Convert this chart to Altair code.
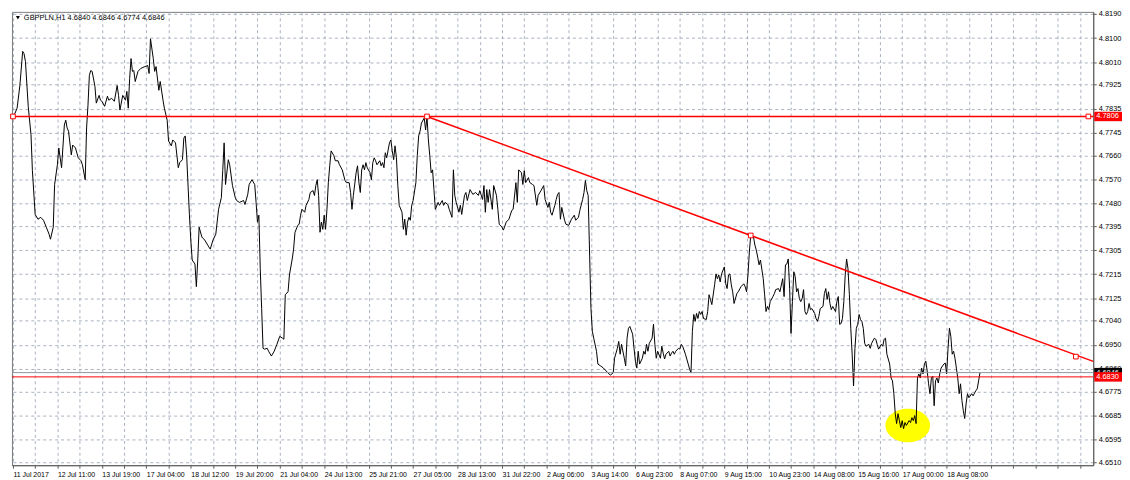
import altair as alt
import pandas as pd

# ---------------- data ----------------
HOURS = [0, 3, 5, 7, 8, 9, 11, 13, 14, 16, 18, 20, 22, 24, 26, 27, 29, 30, 32, 33, 35, 37, 38, 39, 40, 42, 43, 45, 47, 49,
         50, 52, 53, 54, 55, 56, 57, 59, 60, 62, 63, 64, 66, 68, 69, 71, 73, 75, 76, 77, 79, 81, 82, 83, 84, 85, 86, 87, 88, 90,
         92, 95, 97, 98, 99, 101, 102, 103, 105, 106, 108, 109, 111, 112, 114, 115, 117, 119, 120, 122, 123, 124, 125, 127, 128, 129, 131, 132, 133, 134,
         136, 138, 141, 142, 144, 146, 148, 150, 151, 152, 153, 155, 156, 158, 160, 161, 163, 166, 167, 169, 170, 172, 174, 175, 176, 177, 178, 179, 180, 181,
         183, 184, 186, 188, 190, 192, 194, 195, 196, 198, 199, 201, 202, 203, 205, 206, 207, 208, 210, 211, 213, 214, 216, 217, 218, 219, 220, 221, 222, 223,
         224, 225, 226, 227, 228, 229, 231, 232, 234, 235, 237, 239, 240, 242, 243, 244, 245, 247, 248, 249, 250, 251, 252, 253, 254, 255, 257, 258, 259, 260,
         261, 262, 264, 265, 266, 267, 268, 269, 271, 272, 273, 274, 275, 276, 277, 278, 280, 281, 282, 283, 284, 285, 286, 287, 288, 290, 291, 292, 293, 294,
         296, 297, 298, 299, 300, 301, 302, 303, 304, 306, 307, 309, 310, 311, 313, 314, 316, 317, 318, 319, 321, 322, 323, 325, 326, 327, 329, 331, 333, 335,
         336, 338, 339, 340, 341, 342, 343, 345, 346, 348, 349, 350, 352, 353, 355, 357, 359, 360, 362, 363, 364, 366, 367, 368, 369, 371, 372, 374, 375, 377,
         378, 380, 382, 383, 385, 386, 387, 388, 390, 391, 392, 393, 394, 395, 397, 398, 400, 402, 404, 405, 407, 408, 410, 411, 412, 413, 414, 415, 416, 417,
         418, 420, 421, 423, 425, 427, 429, 430, 432, 433, 435, 436, 437, 438, 440, 441, 442, 443, 444, 446, 447, 448, 449, 450, 451, 453, 454, 455, 456, 457,
         458, 460, 461, 462, 463, 464, 466, 467, 468, 469, 470, 472, 473, 474, 475, 476, 477, 479, 480, 481, 482, 484, 486, 487, 488, 489, 490, 491, 492, 493,
         494, 495, 496, 497, 499, 500, 501, 502, 503, 505, 506, 507, 508, 509, 510, 512, 513, 514, 515, 516, 517, 518, 519, 521, 522, 524, 526, 527, 528, 529,
         530, 531, 533, 534, 535, 536, 537, 538, 540, 541, 542, 543, 544, 545, 547, 548, 549, 551, 552, 554, 555, 556, 557, 558, 559, 560, 561, 562, 563, 564,
         565, 566, 567, 568, 569, 570, 571, 572, 573, 574, 575, 577, 578, 579, 580, 581, 583, 584, 585, 586, 587, 588, 589, 590, 592, 593, 594, 595, 596, 597,
         598, 599, 600, 601, 602, 603, 604, 605, 606, 607, 608, 609, 610, 611, 612, 613, 614, 616, 617, 618, 620, 621, 622, 623, 625, 626, 627, 628, 629, 631,
         632, 633, 634, 635, 636, 637, 638, 639, 640, 641, 642, 643, 645, 646, 647, 648, 649, 650, 651, 652, 653, 654, 655, 656, 657, 658, 659, 660, 661, 662,
         663, 664, 665, 666, 667, 668, 670, 671, 672, 673, 674, 675, 676, 677, 678, 679, 680, 681, 682, 683, 684, 685, 686, 687, 688, 690, 691, 693, 694, 695,
         696]

PRICES = [4.7800, 4.7837, 4.7922, 4.8050, 4.8041, 4.8012, 4.7844, 4.7737, 4.7603, 4.7439, 4.7421, 4.7428, 4.7417, 4.7391, 4.7365, 4.7346, 4.7391, 4.7551, 4.7625, 4.7688,
          4.7614, 4.7774, 4.7792, 4.7763, 4.7751, 4.7662, 4.7699, 4.7688, 4.7651, 4.7640, 4.7625, 4.7569, 4.7763, 4.7848, 4.7960, 4.7978, 4.7975, 4.7919, 4.7856, 4.7885,
          4.7867, 4.7863, 4.7844, 4.7882, 4.7867, 4.7874, 4.7863, 4.7922, 4.7885, 4.7830, 4.7885, 4.7867, 4.7900, 4.7837, 4.7948, 4.8023, 4.7975, 4.7978, 4.7937, 4.7975,
          4.7986, 4.7993, 4.7997, 4.7967, 4.8097, 4.8023, 4.7975, 4.7993, 4.7904, 4.7937, 4.7867, 4.7837, 4.7792, 4.7714, 4.7696, 4.7718, 4.7707, 4.7614, 4.7633, 4.7644,
          4.7725, 4.7733, 4.7662, 4.7439, 4.7343, 4.7268, 4.7253, 4.7168, 4.7268, 4.7391, 4.7354, 4.7343, 4.7317, 4.7309, 4.7343, 4.7365, 4.7458, 4.7502, 4.7603, 4.7707,
          4.7551, 4.7644, 4.7625, 4.7547, 4.7502, 4.7491, 4.7484, 4.7491, 4.7476, 4.7514, 4.7551, 4.7569, 4.7551, 4.7484, 4.7410, 4.7436, 4.7235, 4.7086, 4.6937, 4.6934,
          4.6937, 4.6926, 4.6908, 4.6926, 4.6952, 4.6982, 4.6975, 4.6971, 4.7138, 4.7149, 4.7212, 4.7272, 4.7309, 4.7372, 4.7398, 4.7402, 4.7436, 4.7458, 4.7447, 4.7473,
          4.7495, 4.7521, 4.7528, 4.7510, 4.7547, 4.7569, 4.7510, 4.7372, 4.7410, 4.7383, 4.7436, 4.7383, 4.7458, 4.7558, 4.7621, 4.7677, 4.7659, 4.7640, 4.7640, 4.7625,
          4.7606, 4.7566, 4.7558, 4.7558, 4.7521, 4.7458, 4.7510, 4.7595, 4.7621, 4.7558, 4.7521, 4.7606, 4.7625, 4.7606, 4.7633, 4.7614, 4.7595, 4.7569, 4.7633, 4.7651,
          4.7640, 4.7625, 4.7640, 4.7621, 4.7633, 4.7614, 4.7670, 4.7651, 4.7707, 4.7718, 4.7677, 4.7644, 4.7696, 4.7651, 4.7547, 4.7473, 4.7447, 4.7383, 4.7421, 4.7361,
          4.7410, 4.7428, 4.7417, 4.7473, 4.7491, 4.7558, 4.7659, 4.7733, 4.7751, 4.7781, 4.7800, 4.7755, 4.7806, 4.7718, 4.7659, 4.7595, 4.7606, 4.7532, 4.7458, 4.7484,
          4.7473, 4.7491, 4.7473, 4.7484, 4.7476, 4.7458, 4.7428, 4.7606, 4.7510, 4.7484, 4.7447, 4.7473, 4.7439, 4.7510, 4.7521, 4.7491, 4.7532, 4.7514, 4.7521, 4.7510,
          4.7528, 4.7495, 4.7547, 4.7447, 4.7532, 4.7484, 4.7532, 4.7458, 4.7547, 4.7510, 4.7458, 4.7402, 4.7391, 4.7380, 4.7410, 4.7421, 4.7454, 4.7458, 4.7558, 4.7484,
          4.7606, 4.7595, 4.7551, 4.7603, 4.7558, 4.7577, 4.7558, 4.7551, 4.7547, 4.7473, 4.7510, 4.7528, 4.7547, 4.7495, 4.7465, 4.7484, 4.7447, 4.7436, 4.7473, 4.7495,
          4.7514, 4.7521, 4.7421, 4.7465, 4.7417, 4.7402, 4.7398, 4.7421, 4.7436, 4.7417, 4.7428, 4.7454, 4.7495, 4.7521, 4.7566, 4.7528, 4.7510, 4.7298, 4.7086, 4.7001,
          4.6975, 4.6926, 4.6878, 4.6871, 4.6863, 4.6852, 4.6841, 4.6837, 4.6845, 4.6900, 4.6937, 4.6963, 4.6915, 4.6952, 4.6900, 4.6871, 4.6975, 4.7012, 4.7019, 4.6990,
          4.6937, 4.6889, 4.6863, 4.6926, 4.6878, 4.6900, 4.6926, 4.6915, 4.6952, 4.6926, 4.6956, 4.6975, 4.7027, 4.6952, 4.6900, 4.6926, 4.6900, 4.6945, 4.6919, 4.6897,
          4.6915, 4.6926, 4.6908, 4.6919, 4.6926, 4.6915, 4.6926, 4.6937, 4.6934, 4.6952, 4.6945, 4.6915, 4.6878, 4.6859, 4.6845, 4.7001, 4.7064, 4.7038, 4.7068, 4.7049,
          4.7075, 4.7064, 4.7075, 4.7049, 4.7045, 4.7075, 4.7138, 4.7120, 4.7101, 4.7175, 4.7216, 4.7198, 4.7212, 4.7186, 4.7216, 4.7242, 4.7179, 4.7161, 4.7212, 4.7216,
          4.7175, 4.7149, 4.7105, 4.7142, 4.7149, 4.7168, 4.7179, 4.7168, 4.7149, 4.7212, 4.7298, 4.7361, 4.7354, 4.7324, 4.7305, 4.7279, 4.7250, 4.7268, 4.7198, 4.7138,
          4.7075, 4.7094, 4.7082, 4.7112, 4.7131, 4.7142, 4.7157, 4.7161, 4.7149, 4.7198, 4.7131, 4.7250, 4.7253, 4.7272, 4.7161, 4.6993, 4.7112, 4.7224, 4.7205, 4.7149,
          4.7161, 4.7123, 4.7112, 4.7123, 4.7157, 4.7075, 4.7064, 4.7075, 4.7105, 4.7082, 4.7086, 4.7068, 4.7049, 4.7038, 4.7056, 4.7086, 4.7094, 4.7142, 4.7161, 4.7120,
          4.7149, 4.7105, 4.7082, 4.7094, 4.7075, 4.7112, 4.7131, 4.7027, 4.7030, 4.7049, 4.7112, 4.7212, 4.7272, 4.7235, 4.7138, 4.7012, 4.6915, 4.6796, 4.6937, 4.7012,
          4.7027, 4.7064, 4.7045, 4.7038, 4.7012, 4.6956, 4.6945, 4.6952, 4.6937, 4.6956, 4.6975, 4.6971, 4.6952, 4.6934, 4.6952, 4.6945, 4.6971, 4.6975, 4.6915, 4.6878,
          4.6826, 4.6815, 4.6767, 4.6692, 4.6655, 4.6692, 4.6666, 4.6640, 4.6666, 4.6636, 4.6659, 4.6648, 4.6666, 4.6659, 4.6677, 4.6666, 4.6685, 4.6655, 4.6826, 4.6841,
          4.6826, 4.6863, 4.6841, 4.6878, 4.6889, 4.6852, 4.6804, 4.6767, 4.6826, 4.6833, 4.6722, 4.6815, 4.6826, 4.6807, 4.6841, 4.6863, 4.6878, 4.6882, 4.6841, 4.6937,
          4.7012, 4.6982, 4.6915, 4.6926, 4.6900, 4.6863, 4.6826, 4.6767, 4.6804, 4.6741, 4.6703, 4.6674, 4.6729, 4.6767, 4.6752, 4.6767, 4.6759, 4.6778, 4.6785, 4.6815,
          4.6846]

X_LABELS = ["11 Jul 2017", "12 Jul 11:00", "13 Jul 19:00", "17 Jul 04:00", "18 Jul 12:00", "19 Jul 20:00",
            "21 Jul 04:00", "24 Jul 13:00", "25 Jul 21:00", "27 Jul 05:00", "28 Jul 13:00", "31 Jul 22:00",
            "2 Aug 06:00", "3 Aug 14:00", "6 Aug 23:00", "8 Aug 07:00", "9 Aug 15:00", "10 Aug 23:00",
            "14 Aug 08:00", "15 Aug 16:00", "17 Aug 00:00", "18 Aug 08:00"]
HOURS_PER_LABEL = 32
Y_TICKS = [4.8190, 4.8100, 4.8010, 4.7925, 4.7835, 4.7745, 4.7660, 4.7570, 4.7480, 4.7395,
           4.7305, 4.7215, 4.7125, 4.7040, 4.6950, 4.6860, 4.6775, 4.6685, 4.6595, 4.6510]

LEVEL_TOP = 4.7806
LEVEL_LOW = 4.6830
BID = 4.6846
TREND_HOURS = [298, 531, 765]
TREND_PRICES = [4.7806, 4.7360, 4.6906]
LEVEL_MARK_HOURS = [0, 774]
ELLIPSE_HOUR = 644
ELLIPSE_PRICE = 4.6648
HEADER = "GBPPLN,H1  4.6840 4.6846 4.6774 4.6846"

X_MIN, X_MAX = -0.7, 777.5
Y_MIN, Y_MAX = 4.6499, 4.8198
W, H = 1090, 457
FONT = "Liberation Sans"

# ---------------- chart ----------------
xs = alt.Scale(domain=[X_MIN, X_MAX], nice=False, zero=False)
ys = alt.Scale(domain=[Y_MIN, Y_MAX], nice=False, zero=False)

label_arr = "[" + ",".join("'" + s + "'" for s in X_LABELS) + "]"
last_tick = HOURS_PER_LABEL * (len(X_LABELS) - 1)
x_expr = (f"(datum.value % {HOURS_PER_LABEL} == 0 && datum.value <= {last_tick}) ? "
          f"{label_arr}[datum.value / {HOURS_PER_LABEL}] : ''")

x_axis = alt.Axis(values=list(range(0, 769, HOURS_PER_LABEL // 2)), tickCount=200, labelExpr=x_expr, title=None,
                  labelAlign="left", labelBaseline="top", labelPadding=2, labelOverlap=False,
                  labelFlush=False, labelBound=False, labelFontSize=7)
y_axis = alt.Axis(values=Y_TICKS, tickCount=200, format=".4f", orient="right", title=None, labelAlign="left",
                  labelBaseline="middle", labelPadding=2, labelOverlap=False, labelFlush=False)


def X(field="hour:Q"):
    return alt.X(field, scale=xs, axis=x_axis)


def Y(field="price:Q"):
    return alt.Y(field, scale=ys, axis=y_axis)


price_df = pd.DataFrame({"hour": HOURS, "price": PRICES})

line = alt.Chart(price_df).mark_line(color="#000000", strokeWidth=1, interpolate="linear").encode(
    x=X(), y=Y())

k = 0.5523
ry = 0.75
ellipse_path = (f"M -1 0 C -1 {-k*ry:.3f} {-k:.3f} {-ry} 0 {-ry} C {k:.3f} {-ry} 1 {-k*ry:.3f} 1 0 "
                f"C 1 {k*ry:.3f} {k:.3f} {ry} 0 {ry} C {-k:.3f} {ry} -1 {k*ry:.3f} -1 0 Z")
ellipse = alt.Chart(pd.DataFrame({"hour": [ELLIPSE_HOUR], "price": [ELLIPSE_PRICE]})).mark_point(
    shape=ellipse_path, filled=True, color="#ffff00", opacity=1, size=2025, strokeWidth=0
).encode(x=X(), y=Y())

bid_rule = alt.Chart(pd.DataFrame({"price": [BID]})).mark_rule(color="#8d98a6", strokeWidth=1).encode(y=Y())
low_rule = alt.Chart(pd.DataFrame({"price": [LEVEL_LOW]})).mark_rule(color="#ff0000", strokeWidth=1).encode(y=Y())
top_rule = alt.Chart(pd.DataFrame({"price": [LEVEL_TOP]})).mark_rule(color="#ff0000", strokeWidth=1.6).encode(y=Y())

slope = (TREND_PRICES[1] - TREND_PRICES[0]) / (TREND_HOURS[1] - TREND_HOURS[0])
ray_df = pd.DataFrame({"hour": [TREND_HOURS[0], X_MAX],
                       "price": [TREND_PRICES[0], TREND_PRICES[0] + slope * (X_MAX - TREND_HOURS[0])]})
ray = alt.Chart(ray_df).mark_line(color="#ff0000", strokeWidth=1.6).encode(x=X(), y=Y())

anchor_df = pd.DataFrame({"hour": TREND_HOURS + LEVEL_MARK_HOURS,
                          "price": TREND_PRICES + [LEVEL_TOP] * len(LEVEL_MARK_HOURS)})
anchors = alt.Chart(anchor_df).mark_point(shape="square", filled=True, fill="#ffffff", stroke="#ff0000",
                                          strokeWidth=1, size=22, opacity=1).encode(x=X(), y=Y())

tag_shape = "M -1 -0.34 L 1 -0.34 L 1 0.34 L -1 0.34 Z"


def price_tag(value, bg):
    df = pd.DataFrame({"price": [value], "label": [f"{value:.4f}"]})
    box = alt.Chart(df).mark_point(shape=tag_shape, filled=True, opacity=1, size=784, strokeWidth=0,
                                   color=bg, xOffset=15).encode(
        x=alt.XDatum(X_MAX, scale=xs, axis=x_axis), y=Y())
    txt = alt.Chart(df).mark_text(align="left", baseline="middle", font=FONT, fontSize=7.5,
                                  color="#ffffff", xOffset=3).encode(
        x=alt.XDatum(X_MAX, scale=xs, axis=x_axis), y=Y(), text="label:N")
    return [box, txt]


tags = price_tag(BID, "#000000") + price_tag(LEVEL_LOW, "#ff0000") + price_tag(LEVEL_TOP, "#ff0000")

head_df = pd.DataFrame({"t": [HEADER]})
header = alt.Chart(head_df).mark_text(align="left", baseline="middle", font=FONT, fontSize=7.5,
                                      color="#000000").encode(
    x=alt.value(12), y=alt.value(6), text="t:N")
tri = alt.Chart(head_df).mark_point(shape="triangle-down", filled=True, color="#000000", size=16,
                                    opacity=1).encode(x=alt.value(6), y=alt.value(6))

chart = alt.layer(ellipse, line, bid_rule, low_rule, top_rule, ray, anchors, *tags, header, tri).properties(
    width=W, height=H, padding={"left": 0, "top": 0, "right": 0, "bottom": 0}, background="#ffffff"
).configure_view(stroke="#7a7a7a", strokeWidth=1).configure_axis(
    labelFont=FONT, labelFontSize=7.5, labelColor="#000000", gridColor="#a9b1c0", gridDash=[3, 3],
    gridWidth=1, domainColor="#5a5a5a", tickColor="#5a5a5a", tickSize=3
)

chart.save("out.html", embed_options={"renderer": "svg", "actions": False})
